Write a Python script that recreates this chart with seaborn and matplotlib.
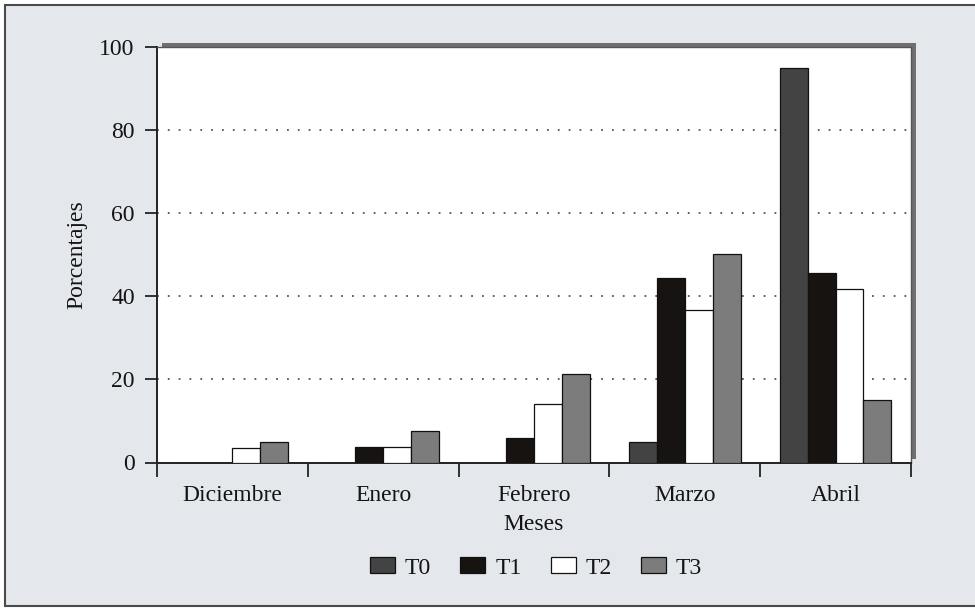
import numpy as np
import pandas as pd
import matplotlib
matplotlib.use("Agg")
import matplotlib.pyplot as plt
from matplotlib.patches import Rectangle
import seaborn as sns

# Monthly percentages per treatment
meses = ["Diciembre", "Enero", "Febrero", "Marzo", "Abril"]
tratamientos = ["T0", "T1", "T2", "T3"]
t0 = [0.0, 0.0, 0.0, 4.9, 95.0]
t1 = [0.0, 3.7, 6.0, 44.3, 45.5]
t2 = [3.4, 3.7, 14.0, 36.8, 41.7]
t3 = [5.0, 7.7, 21.2, 50.2, 15.1]
yticks = [0, 20, 40, 60, 80, 100]

df = pd.DataFrame({
    "Meses": [m for m in meses for _ in tratamientos],
    "Tratamiento": tratamientos * len(meses),
    "Porcentajes": [v for vals in zip(t0, t1, t2, t3) for v in vals],
})

sns.set_theme(style="white")
plt.rcParams["font.family"] = ["Liberation Serif", "DejaVu Serif"]
FS = 17
plt.rcParams["font.size"] = FS

W, H = 975, 609
bg = "#e4e8ec"
ink = "#141414"
fig = plt.figure(figsize=(W / 100, H / 100), dpi=100, facecolor="white")

# outer panel with border
fig.patches.append(Rectangle((5 / W, 3 / H), 1.2, 1 - 8 / H, transform=fig.transFigure,
                             facecolor=bg, edgecolor="#4a4a4a", linewidth=1.5, zorder=-2))

left, right, top, bottom = 157, 911, 47, 462.5
ax = fig.add_axes([left / W, 1 - bottom / H, (right - left) / W, (bottom - top) / H])

# drop shadow behind the plotting area
fig.patches.append(Rectangle(((left + 5) / W, 1 - (bottom - 4) / H), (right - left) / W,
                             (bottom - top) / H, transform=fig.transFigure,
                             facecolor="#6f6f6f", edgecolor="none", zorder=-1))

palette = {"T0": "#434343", "T1": "#161311", "T2": "#ffffff", "T3": "#7c7c7c"}
sns.barplot(data=df, x="Meses", y="Porcentajes", hue="Tratamiento", order=meses,
            hue_order=tratamientos, palette=palette, width=0.74, edgecolor="#111111",
            linewidth=0.9, saturation=1, ax=ax, zorder=3)

ax.set_facecolor("white")
ax.set_xlim(-0.5, len(meses) - 0.5)
ax.set_ylim(0, 100)
ax.set_yticks(yticks)
ax.set_yticklabels([str(v) for v in yticks])

# dotted reference lines
for v in yticks[1:-1]:
    ax.axhline(v, color="#555555", linestyle=(0, (1, 5)), linewidth=1.3, zorder=1)

# boundary ticks between months, labels centred on each month
ax.set_xticks(np.arange(-0.5, len(meses)), minor=False)
ax.set_xticklabels([""] * (len(meses) + 1))
ax.set_xticks(np.arange(len(meses)), minor=True)
ax.set_xticklabels(meses, minor=True)
ax.tick_params(axis="x", which="major", direction="out", length=10, width=1.3,
               color="#222222", bottom=True)
ax.tick_params(axis="x", which="minor", length=0, pad=16, labelsize=FS, colors=ink)
ax.tick_params(axis="y", direction="out", length=9, width=1.3, color="#222222",
               left=True, pad=7, labelsize=FS, colors=ink)

for s in ["left", "bottom"]:
    ax.spines[s].set_color("#222222")
    ax.spines[s].set_linewidth(1.4)
for s in ["top", "right"]:
    ax.spines[s].set_color("#555555")
    ax.spines[s].set_linewidth(1.0)

ax.set_xlabel("Meses", fontsize=FS, color=ink, labelpad=6)
ax.set_ylabel("Porcentajes", fontsize=FS, color=ink, labelpad=9)

handles, labels = ax.get_legend_handles_labels()
ax.legend_.remove()
fig.legend(handles, labels, loc="center", bbox_to_anchor=(536 / W, 1 - 568 / H), ncol=4,
           frameon=False, fontsize=FS, handlelength=1.06, handleheight=0.64,
           handletextpad=0.42, columnspacing=1.23, labelcolor=ink)

fig.savefig("out.png", dpi=100, facecolor=fig.get_facecolor())
